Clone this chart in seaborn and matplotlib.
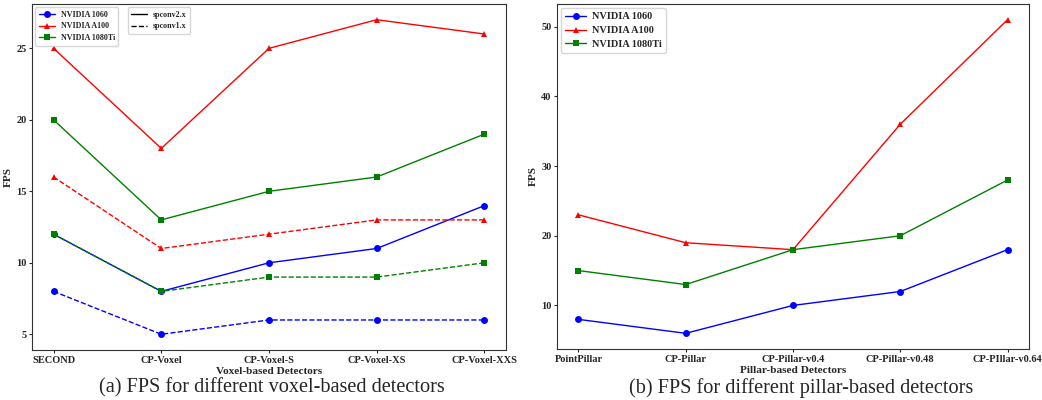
import matplotlib
matplotlib.use("Agg")
import matplotlib.pyplot as plt
from matplotlib.lines import Line2D
import seaborn as sns
import pandas as pd

voxel_detectors = ["SECOND", "CP-Voxel", "CP-Voxel-S", "CP-Voxel-XS", "CP-Voxel-XXS"]
gpus = ["NVIDIA 1060", "NVIDIA A100", "NVIDIA 1080Ti"]
voxel_v2 = {
    "NVIDIA 1060": [12, 8, 10, 11, 14],
    "NVIDIA A100": [25, 18, 25, 27, 26],
    "NVIDIA 1080Ti": [20, 13, 15, 16, 19],
}
voxel_v1 = {
    "NVIDIA 1060": [8, 5, 6, 6, 6],
    "NVIDIA A100": [16, 11, 12, 13, 13],
    "NVIDIA 1080Ti": [12, 8, 9, 9, 10],
}
pillar_detectors = ["PointPillar", "CP-Pillar", "CP-Pillar-v0.4", "CP-Pillar-v0.48", "CP-PIllar-v0.64"]
pillar_fps = {
    "NVIDIA 1060": [8, 6, 10, 12, 18],
    "NVIDIA A100": [23, 19, 18, 36, 51],
    "NVIDIA 1080Ti": [15, 13, 18, 20, 28],
}
colors = {"NVIDIA 1060": "blue", "NVIDIA A100": "red", "NVIDIA 1080Ti": "green"}
markers = {"NVIDIA 1060": "o", "NVIDIA A100": "^", "NVIDIA 1080Ti": "s"}

sns.set_theme(style="ticks")
plt.rcParams["font.family"] = ["Liberation Serif", "DejaVu Serif"]
plt.rcParams["font.weight"] = "bold"

fig = plt.figure(figsize=(10.42, 4.0), dpi=100)
ax1 = fig.add_axes([32 / 1042, 50 / 400, 474 / 1042, 346 / 400])
ax2 = fig.add_axes([557 / 1042, 51 / 400, 472 / 1042, 345 / 400])

tick_fs = 7.5
lab_fs = 8.1
ms = 5
lw = 1.0

def draw(ax, cats, data, ls):
    for g in gpus:
        df = pd.DataFrame({"x": list(range(len(cats))), "y": data[g]})
        sns.lineplot(data=df, x="x", y="y", ax=ax, color=colors[g], marker=markers[g],
                     markersize=ms, markeredgewidth=0, linewidth=lw, linestyle=ls,
                     label=None, legend=False)

draw(ax1, voxel_detectors, voxel_v2, "-")
draw(ax1, voxel_detectors, voxel_v1, "--")
draw(ax2, pillar_detectors, pillar_fps, "-")

for ax, cats, xl in [(ax1, voxel_detectors, "Voxel-based Detectors"),
                     (ax2, pillar_detectors, "Pillar-based Detectors")]:
    ax.set_xticks(range(len(cats)))
    ax.set_xticklabels(cats, fontsize=tick_fs, fontweight="bold")
    ax.tick_params(axis="y", labelsize=tick_fs, length=2.5, width=0.8, pad=1.5)
    ax.tick_params(axis="x", length=2.5, width=0.8, pad=1.5)
    for lbl in ax.get_yticklabels():
        lbl.set_fontweight("bold")
    ax.set_xlabel(xl, fontsize=lab_fs, fontweight="bold", labelpad=1.5)
    ax.set_ylabel("FPS", fontsize=lab_fs, fontweight="bold", labelpad=2)
    for s in ax.spines.values():
        s.set_visible(True)
        s.set_linewidth(0.8)
        s.set_color("#333333")

ax1.set_yticks([5, 10, 15, 20, 25])
ax2.set_yticks([10, 20, 30, 40, 50])

def gpu_handles():
    return [Line2D([], [], color=colors[g], marker=markers[g], markersize=ms,
                   markeredgewidth=0, linewidth=lw) for g in gpus]

leg1 = ax1.legend(gpu_handles(), gpus, loc="upper left", prop={"size": 5.8, "weight": "bold"},
                  handlelength=2.0, handletextpad=0.7, borderpad=0.45, labelspacing=0.45,
                  borderaxespad=0.4, frameon=True)
ax1.add_artist(leg1)
ver_handles = [Line2D([], [], color="black", linewidth=lw, linestyle="-"),
               Line2D([], [], color="black", linewidth=lw, linestyle="--")]
ax1.legend(ver_handles, ["spconv2.x", "spconv1.x"], loc="upper left",
           bbox_to_anchor=(0.195, 1.0), prop={"size": 5.8, "weight": "bold"},
           handlelength=2.0, handletextpad=0.7, borderpad=0.45, labelspacing=0.45,
           borderaxespad=0.4, frameon=True)
ax2.legend(gpu_handles(), gpus, loc="upper left", prop={"size": 7.4, "weight": "bold"},
           handlelength=2.0, handletextpad=0.6, borderpad=0.4, labelspacing=0.45,
           borderaxespad=0.4, frameon=True)

fig.text(272 / 1042, 1 - 388 / 400, "(a) FPS for different voxel-based detectors",
         ha="center", va="center", fontsize=14.6, fontweight="normal")
fig.text(801 / 1042, 1 - 388 / 400, "(b) FPS for different pillar-based detectors",
         ha="center", va="center", fontsize=14.6, fontweight="normal")

fig.savefig("out.png", dpi=100)
